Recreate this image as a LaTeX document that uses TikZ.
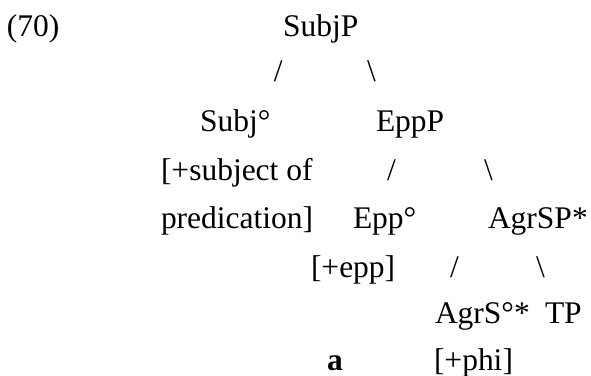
\documentclass[tikz,border=0pt]{standalone}
\usepackage{fontspec}
\setmainfont{Liberation Serif}
\usepackage{tikz}

\tikzset{
	lbl/.style={anchor=base west, inner sep=0pt, outer sep=0pt, font=\fontsize{12}{14}\selectfont},
	brc/.style={lbl}
}

\begin{document}
\begin{tikzpicture}[x=0.381pt,y=-0.381pt]
	\useasboundingbox (0,0) rectangle (591,376);
	% example number
	\node[lbl] (num) at (7,36) {(70)};
	% top level
	\node[lbl] (subjP) at (283,36) {SubjP};
	\node[brc] (b1l) at (274,82) {/};
	\node[brc] (b1r) at (367,82) {\textbackslash};
	\node[lbl] (subj0) at (200,132) {Subj°};
	\node[lbl] (eppP) at (376,132) {EppP};
	\node[lbl] (subjf1) at (161,180) {[+subject of};
	\node[lbl] (subjf2) at (161,228) {predication]};
	% EppP
	\node[brc] (b2l) at (387,180) {/};
	\node[brc] (b2r) at (484,180) {\textbackslash};
	\node[lbl] (epp0) at (353,228) {Epp°};
	\node[lbl] (agrSP) at (488,228) {AgrSP*};
	\node[lbl] (eppf) at (311,277) {[+epp]};
	% AgrSP
	\node[brc] (b3l) at (450,277) {/};
	\node[brc] (b3r) at (536,277) {\textbackslash};
	\node[lbl] (agrS0) at (435,323) {AgrS°*};
	\node[lbl] (tp) at (545,323) {TP};
	\node[lbl] (agrf) at (434,370) {[+phi]};
	\node[lbl] (lexa) at (327,370) {\textbf{a}};
\end{tikzpicture}
\end{document}
